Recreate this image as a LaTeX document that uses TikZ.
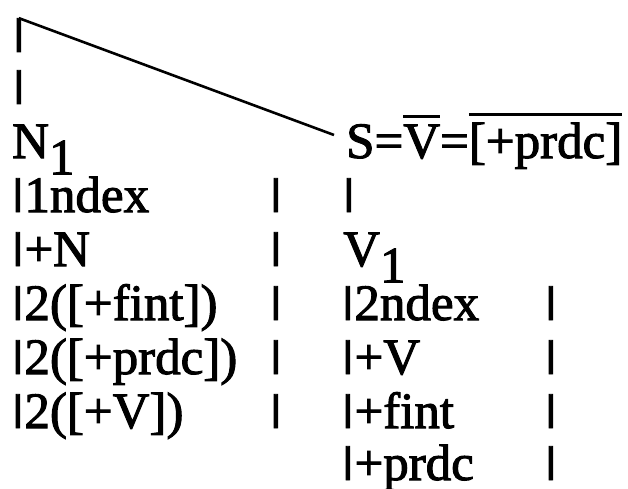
\documentclass[tikz,border=0pt]{standalone}
\usepackage{fontspec}
\setmainfont{Liberation Serif}[UprightFeatures={FakeBold=2}]
\newcommand\ovl[1]{\vbox{\hrule height 2.5pt\kern 7pt\hbox{#1}}}
\newcommand\lowsub[1]{\raisebox{-.32em}[\height][0pt]{#1}}
\newcommand\vb{\raisebox{\depth}{\resizebox*{1.3\width}{.66em}{|}}}

\begin{document}
\begin{tikzpicture}
[x=1pt,y=-1pt,
txt/.style={anchor=base west,inner sep=0pt,font=\fontsize{51}{54}\selectfont},
myedge/.style={line width=2.6pt}]
\useasboundingbox (0,0) rectangle (628,489);
%%
\node (t1) [txt] at (12,52) {\vb};
\node (t2) [txt] at (12,104) {\vb};
\node (n1) [txt] at (12,158) {N\lowsub{1}};
\node (s) [txt] at (346,158) {S=\ovl{V}=\ovl{[+prdc]}};
\draw[myedge] (t1.north) -- ([xshift=-12pt,yshift=6pt]s.west);
%% left column
\node (l1) [txt] at (11,212) {\vb1ndex};
\node (l2) [txt] at (11,266) {\vb+N};
\node (l3) [txt] at (11,320) {\vb2([+fint])};
\node (l4) [txt] at (11,374) {\vb2([+prdc])};
\node (l5) [txt] at (11,428) {\vb2([+V])};
\node (lb1) [txt] at (269,212) {\vb};
\node (lb2) [txt] at (269,266) {\vb};
\node (lb3) [txt] at (269,320) {\vb};
\node (lb4) [txt] at (269,374) {\vb};
\node (lb5) [txt] at (269,428) {\vb};
%% right column
\node (sb) [txt] at (342,212) {\vb};
\node (v1) [txt] at (343,266) {V\lowsub{1}};
\node (r1) [txt] at (341,320) {\vb2ndex};
\node (r2) [txt] at (341,374) {\vb+V};
\node (r3) [txt] at (341,428) {\vb+fint};
\node (r4) [txt] at (341,480) {\vb+prdc};
\node (rb1) [txt] at (544,320) {\vb};
\node (rb2) [txt] at (544,374) {\vb};
\node (rb3) [txt] at (544,428) {\vb};
\node (rb4) [txt] at (544,480) {\vb};
\end{tikzpicture}
\end{document}
